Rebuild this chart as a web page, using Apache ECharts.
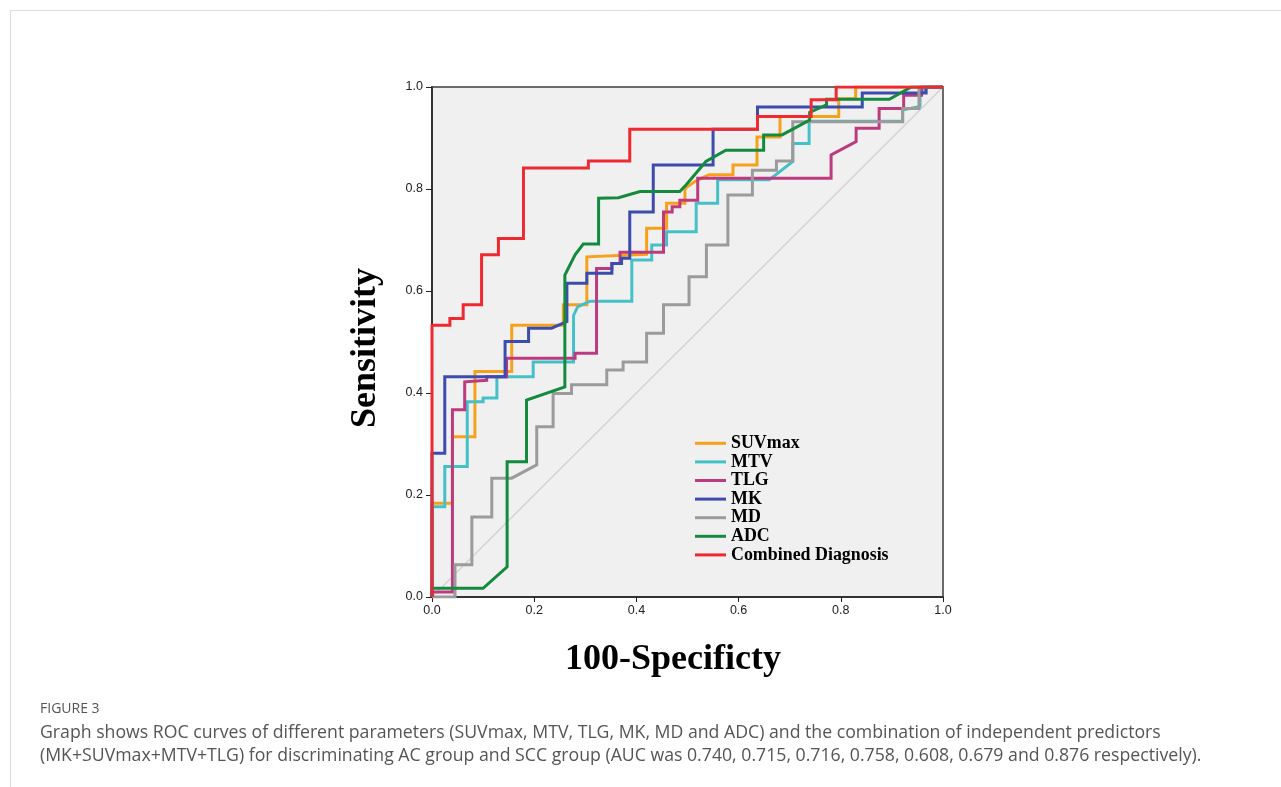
<!DOCTYPE html>
<html>
<head>
<meta charset="utf-8">
<script src="https://cdn.jsdelivr.net/npm/echarts@6/dist/echarts.min.js"></script>
<style>
html,body{margin:0;padding:0;background:#fff;}
#c{width:1281px;height:787px;}
</style>
</head>
<body>
<div id="c"></div>
<script>
// ROC points [1-specificity, sensitivity]
var seriesNames = ['SUVmax','MTV','TLG','MK','MD','ADC','Combined Diagnosis'];
var xTicks = [0.0,0.2,0.4,0.6,0.8,1.0];
var yTicks = [0.0,0.2,0.4,0.6,0.8,1.0];

var suvmax = [[0,0],[0,0.184],[0.04,0.184],[0.04,0.314],[0.084,0.314],[0.084,0.442],[0.156,0.442],[0.156,0.533],[0.257,0.533],[0.257,0.573],[0.303,0.573],[0.303,0.667],[0.42,0.672],[0.42,0.723],[0.459,0.723],[0.459,0.772],[0.495,0.772],[0.495,0.801],[0.515,0.815],[0.542,0.828],[0.589,0.828],[0.589,0.847],[0.636,0.847],[0.636,0.902],[0.681,0.902],[0.681,0.942],[0.796,0.942],[0.796,0.977],[0.829,0.977],[0.829,1],[1,1]];
var mtv = [[0,0],[0,0.177],[0.025,0.177],[0.025,0.256],[0.069,0.256],[0.069,0.383],[0.1,0.383],[0.1,0.39],[0.127,0.39],[0.127,0.432],[0.198,0.432],[0.198,0.461],[0.277,0.461],[0.277,0.552],[0.285,0.569],[0.309,0.58],[0.391,0.58],[0.391,0.661],[0.43,0.661],[0.43,0.69],[0.459,0.69],[0.459,0.716],[0.517,0.716],[0.517,0.772],[0.559,0.772],[0.559,0.818],[0.66,0.818],[0.706,0.854],[0.706,0.889],[0.738,0.889],[0.738,0.933],[0.921,0.933],[0.921,0.955],[0.955,0.962],[0.955,0.985],[0.97,1],[1,1]];
var tlg = [[0,0],[0,0.01],[0.04,0.01],[0.04,0.367],[0.064,0.367],[0.064,0.422],[0.107,0.425],[0.107,0.432],[0.146,0.432],[0.146,0.468],[0.28,0.468],[0.28,0.478],[0.322,0.478],[0.322,0.644],[0.352,0.644],[0.352,0.654],[0.368,0.654],[0.368,0.676],[0.453,0.676],[0.453,0.755],[0.47,0.755],[0.47,0.765],[0.485,0.765],[0.485,0.778],[0.52,0.778],[0.52,0.821],[0.781,0.821],[0.781,0.867],[0.83,0.893],[0.83,0.919],[0.875,0.919],[0.875,0.958],[0.923,0.958],[0.923,0.984],[0.958,0.984],[0.958,1],[1,1]];
var mk = [[0,0],[0,0.282],[0.025,0.282],[0.025,0.432],[0.143,0.432],[0.143,0.501],[0.189,0.501],[0.189,0.527],[0.234,0.527],[0.264,0.54],[0.264,0.615],[0.303,0.615],[0.303,0.635],[0.352,0.635],[0.352,0.654],[0.371,0.654],[0.371,0.664],[0.387,0.664],[0.387,0.755],[0.433,0.755],[0.433,0.847],[0.55,0.847],[0.55,0.917],[0.637,0.917],[0.637,0.961],[0.842,0.961],[0.842,0.988],[0.967,0.988],[0.967,1],[1,1]];
var md = [[0,0],[0.045,0],[0.045,0.063],[0.078,0.063],[0.078,0.157],[0.117,0.157],[0.117,0.233],[0.156,0.233],[0.205,0.259],[0.205,0.334],[0.237,0.334],[0.237,0.399],[0.273,0.399],[0.273,0.416],[0.342,0.416],[0.342,0.445],[0.374,0.445],[0.374,0.461],[0.42,0.461],[0.42,0.517],[0.453,0.517],[0.453,0.573],[0.503,0.573],[0.503,0.628],[0.537,0.628],[0.537,0.69],[0.579,0.69],[0.579,0.788],[0.627,0.788],[0.627,0.837],[0.674,0.837],[0.674,0.855],[0.706,0.855],[0.706,0.932],[0.921,0.932],[0.921,0.958],[0.953,0.958],[0.953,1],[1,1]];
var adc = [[0,0],[0,0.017],[0.1,0.017],[0.147,0.059],[0.147,0.265],[0.185,0.265],[0.185,0.386],[0.26,0.412],[0.26,0.631],[0.28,0.671],[0.296,0.692],[0.326,0.692],[0.326,0.782],[0.365,0.783],[0.407,0.795],[0.485,0.795],[0.497,0.808],[0.536,0.854],[0.575,0.876],[0.649,0.876],[0.649,0.906],[0.685,0.906],[0.739,0.935],[0.739,0.95],[0.772,0.965],[0.772,0.976],[0.895,0.976],[0.938,1],[1,1]];
var combined = [[0,0],[0,0.533],[0.035,0.533],[0.035,0.546],[0.061,0.546],[0.061,0.573],[0.097,0.573],[0.097,0.671],[0.13,0.671],[0.13,0.703],[0.179,0.703],[0.179,0.841],[0.306,0.841],[0.306,0.855],[0.387,0.855],[0.387,0.917],[0.637,0.917],[0.637,0.942],[0.742,0.942],[0.742,0.975],[0.791,0.975],[0.791,1],[1,1]];
var reference = [[0,0],[1,1]];

var seriesData = [suvmax, mtv, tlg, mk, md, adc, combined];
var colors = ['#f7a11a','#44c1c8','#be3a7f','#3b4cae','#9b9b9b','#138a3e','#ee2a30'];

var xAxisName = '100-Specificty';
var yAxisName = 'Sensitivity';
var captionTitle = 'FIGURE 3';
var captionLine1 = 'Graph shows ROC curves of different parameters (SUVmax, MTV, TLG, MK, MD and ADC) and the combination of independent predictors';
var captionLine2 = '(MK+SUVmax+MTV+TLG) for discriminating AC group and SCC group (AUC was 0.740, 0.715, 0.716, 0.758, 0.608, 0.679 and 0.876 respectively).';

var chart = echarts.init(document.getElementById('c'), null, {renderer:'canvas'});

var series = [{
  name: 'ref', type: 'line', data: reference, symbol: 'none', silent: true,
  lineStyle: {color: '#d0d0d0', width: 1.2}, z: 1
}];
seriesNames.forEach(function(n, i){
  series.push({
    name: n, type: 'line', data: seriesData[i], symbol: 'none', showSymbol: false,
    lineStyle: {color: colors[i], width: 3, join: 'miter'}, itemStyle: {color: colors[i]},
    z: 2 + i, animation: false
  });
});

var labelFmt = function(v){ return v.toFixed(1); };

chart.setOption({
  animation: false,
  backgroundColor: '#ffffff',
  grid: {left: 432, top: 87, width: 511, height: 510, show: true,
         backgroundColor: '#f0f0f0', borderColor: '#6a6a6a', borderWidth: 2},
  xAxis: {
    type: 'value', min: xTicks[0], max: xTicks[xTicks.length-1], interval: 0.2,
    axisLine: {show: true, onZero: false, lineStyle: {color: '#222', width: 1.5}},
    axisTick: {show: true, length: 5, lineStyle: {color: '#222'}},
    axisLabel: {formatter: labelFmt, fontFamily: 'Liberation Sans', fontSize: 12.5, color: '#222', margin: 7},
    splitLine: {show: false}
  },
  yAxis: {
    type: 'value', min: yTicks[0], max: yTicks[yTicks.length-1], interval: 0.2,
    axisLine: {show: true, onZero: false, lineStyle: {color: '#222', width: 1.5}},
    axisTick: {show: true, length: 6, lineStyle: {color: '#222'}},
    axisLabel: {formatter: labelFmt, fontFamily: 'Liberation Sans', fontSize: 12.5, color: '#222', margin: 9},
    splitLine: {show: false}
  },
  legend: {
    data: seriesNames, orient: 'vertical', left: 695, top: 434, padding: 0,
    icon: 'rect', itemWidth: 31, itemHeight: 3, itemGap: 0,
    textStyle: {fontFamily: 'Liberation Serif', fontWeight: 'bold', fontSize: 17.9, color: '#000',
                lineHeight: 18.6},
    selectedMode: false
  },
  graphic: [
    {type: 'line', shape: {x1: 10, y1: 10.5, x2: 1281, y2: 10.5}, style: {stroke: '#dcdcdc', lineWidth: 1}, silent: true},
    {type: 'line', shape: {x1: 10.5, y1: 10, x2: 10.5, y2: 787}, style: {stroke: '#dcdcdc', lineWidth: 1}, silent: true},
    {type: 'text', x: 673, y: 660, style: {text: xAxisName, font: 'bold 36px "Liberation Serif"', fill: '#000', align: 'center', verticalAlign: 'middle'}},
    {type: 'text', x: 366, y: 348, rotation: Math.PI/2, style: {text: yAxisName, font: 'bold 36px "Liberation Serif"', fill: '#000', align: 'center', verticalAlign: 'middle'}},
    {type: 'text', left: 40, top: 702, style: {text: captionTitle, font: '14px "Open Sans"', fill: '#555'}},
    {type: 'text', left: 40, top: 724, style: {text: captionLine1, font: '17.7px "Open Sans"', fill: '#555'}},
    {type: 'text', left: 40, top: 747, style: {text: captionLine2, font: '17.7px "Open Sans"', fill: '#555'}}
  ],
  series: series
});
</script>
</body>
</html>
